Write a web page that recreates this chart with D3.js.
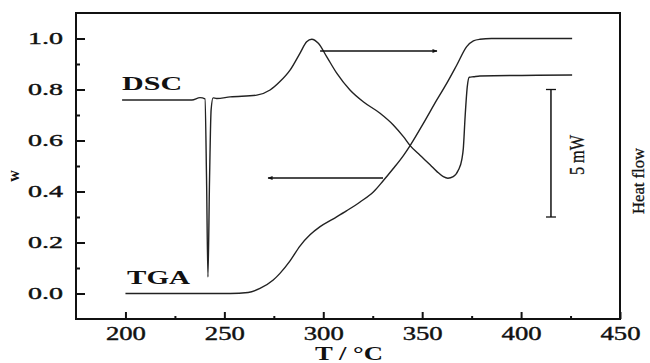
<!DOCTYPE html>
<html>
<head>
<meta charset="utf-8">
<script src="https://cdn.jsdelivr.net/npm/d3@7"></script>
<style>
  body { margin: 0; background: #fff; }
  text { font-family: "Liberation Serif", "Times New Roman", serif; fill: #111; }
</style>
</head>
<body>
<svg id="chart" width="650" height="363"></svg>
<script>
// TGA curve (conversion vs T)
const tgaTemp = [200, 230, 253, 262, 268, 274.7, 278.1, 283.2, 288.2, 293.3, 298.4, 305.1, 311.9, 318.6, 325.3, 330.4, 335.4, 340.5, 343.9, 350.6, 357.4, 362.4, 367.5, 372.5, 375.9, 379.2, 385, 425.8];
const tgaAlpha = [0, 0, 0, 0.004, 0.02, 0.053, 0.079, 0.128, 0.186, 0.230, 0.262, 0.293, 0.325, 0.359, 0.398, 0.443, 0.490, 0.541, 0.58, 0.667, 0.759, 0.824, 0.896, 0.968, 0.991, 0.997, 1.0, 1.0];

// DSC curve (heat flow in mW, arbitrary offset)
const dscTemp = [198.3, 233.6, 237.7, 240.2, 241.0, 241.7, 242.5, 243.3, 244.3, 246.1, 252.9, 266.4, 273.1, 278.1, 283.2, 288.2, 291.6, 294.2, 297.5, 301.7, 306.8, 313.5, 320.2, 328.7, 335.4, 340.5, 343.9, 348.9, 354.0, 357.5, 360.7, 363.0, 365.7, 368.3, 370.0, 370.8, 371.7, 372.8, 373.8, 375.9, 379.2, 425.8];
const dscHeat = [2.59, 2.59, 2.68, 2.63, -0.55, -4.35, -0.55, 2.2, 2.67, 2.65, 2.71, 2.78, 2.98, 3.31, 3.76, 4.42, 4.87, 4.97, 4.81, 4.29, 3.64, 2.98, 2.52, 2.07, 1.61, 1.15, 0.80, 0.42, 0.05, -0.22, -0.42, -0.48, -0.42, -0.16, 0.24, 0.69, 1.93, 3.11, 3.48, 3.50, 3.53, 3.57];

// ticks
const xTicks = [200, 250, 300, 350, 400, 450];
const xMinor = [225, 275, 325, 375, 425];
const yTicks = [0, 0.2, 0.4, 0.6, 0.8, 1.0];
const yMinor = [0.1, 0.3, 0.5, 0.7, 0.9];

const svg = d3.select('#chart');

const x = d3.scaleLinear().domain([175, 450]).range([76, 620]);
const y = d3.scaleLinear().domain([-0.1, 1.1]).range([319, 13]);
const yHeat = d3.scaleLinear().domain([-6, 6]).range([319, 13]);

// arrow head
svg.append('defs').append('marker')
  .attr('id', 'head')
  .attr('viewBox', '0 0 10 10')
  .attr('refX', 9).attr('refY', 5)
  .attr('markerWidth', 9).attr('markerHeight', 5)
  .attr('markerUnits', 'userSpaceOnUse')
  .attr('orient', 'auto')
  .append('path')
  .attr('d', 'M0,1 L10,5 L0,9 Z')
  .attr('fill', '#111');

// bottom axis
const gx = svg.append('g').attr('transform', 'translate(0,319)')
  .call(d3.axisBottom(x).tickValues(xTicks).tickSize(-7).tickPadding(8));
gx.selectAll('text')
  .attr('font-size', 18)
  .attr('textLength', 40)
  .attr('lengthAdjust', 'spacingAndGlyphs')
  .attr('stroke', '#111').attr('stroke-width', 0.4);

svg.append('g').attr('transform', 'translate(0,319)')
  .call(d3.axisBottom(x).tickValues(xMinor).tickSize(-3).tickFormat(''));

// left axis
const gy = svg.append('g').attr('transform', 'translate(76,0)')
  .call(d3.axisLeft(y).tickValues(yTicks).tickSize(-9).tickPadding(13).tickFormat(d3.format('.1f')));
gy.selectAll('text')
  .attr('font-size', 16)
  .attr('textLength', 35)
  .attr('lengthAdjust', 'spacingAndGlyphs')
  .attr('stroke', '#111').attr('stroke-width', 0.4);

svg.append('g').attr('transform', 'translate(76,0)')
  .call(d3.axisLeft(y).tickValues(yMinor).tickSize(-4).tickFormat(''));

svg.selectAll('.domain').remove();
svg.selectAll('.tick line').attr('stroke', '#111').attr('stroke-width', 2);

// frame
svg.append('rect')
  .attr('x', 76).attr('y', 13)
  .attr('width', 620 - 76).attr('height', 319 - 13)
  .attr('fill', 'none')
  .attr('stroke', '#111')
  .attr('stroke-width', 2);

// curves
const tgaData = tgaTemp.map((t, i) => [t, tgaAlpha[i]]);
const dscData = dscTemp.map((t, i) => [t, dscHeat[i]]);

svg.append('path')
  .datum(tgaData)
  .attr('fill', 'none')
  .attr('stroke', '#222')
  .attr('stroke-width', 1.4)
  .attr('d', d3.line().x(d => x(d[0])).y(d => y(d[1])).curve(d3.curveMonotoneX));

svg.append('path')
  .datum(dscData)
  .attr('fill', 'none')
  .attr('stroke', '#222')
  .attr('stroke-width', 1.4)
  .attr('d', d3.line().x(d => x(d[0])).y(d => yHeat(d[1])).curve(d3.curveMonotoneX));

// arrows
svg.append('line')
  .attr('x1', x(298.4)).attr('x2', x(357.5))
  .attr('y1', yHeat(4.51)).attr('y2', yHeat(4.51))
  .attr('stroke', '#111').attr('stroke-width', 1.3)
  .attr('marker-end', 'url(#head)');

svg.append('line')
  .attr('x1', x(330.2)).attr('x2', x(272.1))
  .attr('y1', y(0.453)).attr('y2', y(0.453))
  .attr('stroke', '#111').attr('stroke-width', 1.3)
  .attr('marker-end', 'url(#head)');

// 5 mW scale bar
const barX = x(415.1);
svg.append('line')
  .attr('x1', barX).attr('x2', barX)
  .attr('y1', yHeat(3)).attr('y2', yHeat(-2))
  .attr('stroke', '#111').attr('stroke-width', 1.5);
[3, -2].forEach(v => {
  svg.append('line')
    .attr('x1', barX - 5).attr('x2', barX + 5)
    .attr('y1', yHeat(v)).attr('y2', yHeat(v))
    .attr('stroke', '#111').attr('stroke-width', 1.3);
});

svg.append('text')
  .attr('transform', `translate(${x(431.8)},${yHeat(0.43)}) rotate(-90)`)
  .attr('text-anchor', 'middle')
  .attr('font-size', 20)
  .attr('textLength', 40)
  .attr('lengthAdjust', 'spacingAndGlyphs')
  .attr('stroke', '#111').attr('stroke-width', 0.3)
  .text('5 mW');

// labels
svg.append('text')
  .attr('x', x(198.3)).attr('y', y(0.798))
  .attr('font-size', 18).attr('font-weight', 'bold')
  .attr('textLength', 60).attr('lengthAdjust', 'spacingAndGlyphs')
  .text('DSC');

svg.append('text')
  .attr('x', x(200.8)).attr('y', y(0.037))
  .attr('font-size', 18).attr('font-weight', 'bold')
  .attr('textLength', 63).attr('lengthAdjust', 'spacingAndGlyphs')
  .text('TGA');

// axis titles
svg.append('text')
  .attr('x', 349).attr('y', 360)
  .attr('text-anchor', 'middle')
  .attr('font-size', 19).attr('font-weight', 'bold')
  .attr('textLength', 68).attr('lengthAdjust', 'spacingAndGlyphs')
  .text('T / °C');

svg.append('text')
  .attr('transform', 'translate(19,176) rotate(-90)')
  .attr('text-anchor', 'middle')
  .attr('font-size', 16).attr('font-weight', 'bold')
  .text('w');

svg.append('text')
  .attr('transform', 'translate(644,181) rotate(-90)')
  .attr('text-anchor', 'middle')
  .attr('font-size', 16)
  .attr('textLength', 66)
  .attr('lengthAdjust', 'spacingAndGlyphs')
  .attr('stroke', '#111').attr('stroke-width', 0.3)
  .text('Heat flow');
</script>
</body>
</html>
